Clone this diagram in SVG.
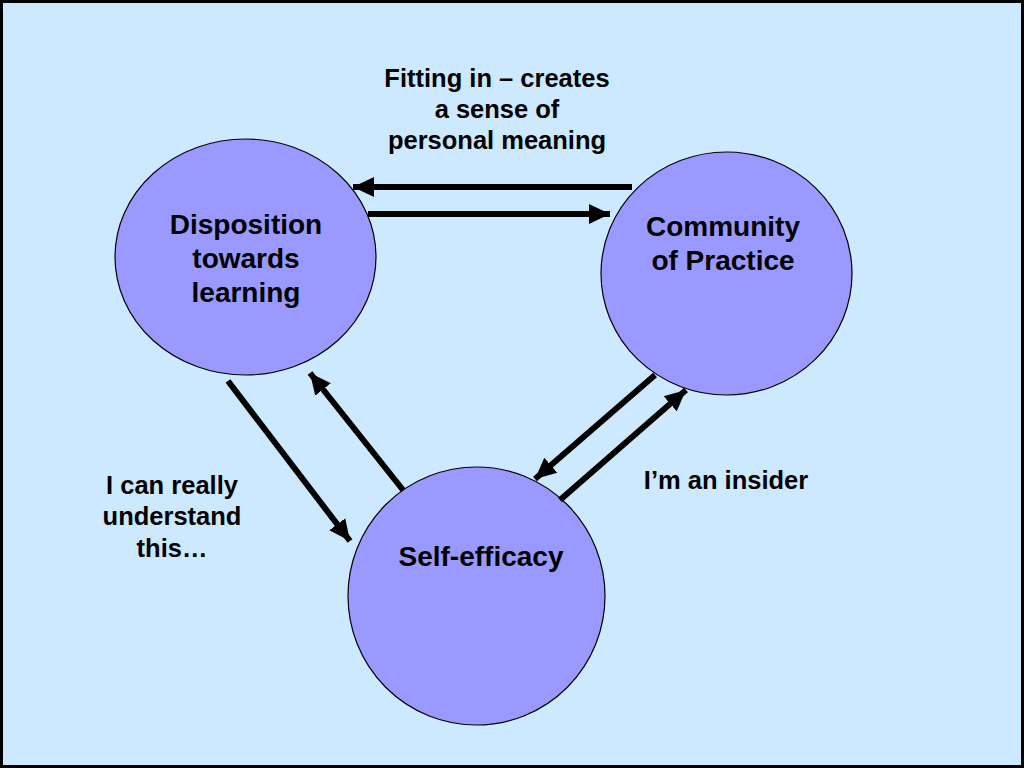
<svg xmlns="http://www.w3.org/2000/svg" width="1024" height="768" viewBox="0 0 1024 768">
<defs>
<marker id="ah" markerUnits="userSpaceOnUse" markerWidth="24" markerHeight="22" refX="21" refY="11" orient="auto">
<path d="M0,1 L21,11 L0,21 Z" fill="#000"/>
</marker>
<style>
.node{fill:#9999FF;stroke:#000;stroke-width:1.2}
.lbl{font-family:"Liberation Sans",Arial,sans-serif;font-weight:bold;fill:#000;text-anchor:middle}
.nt{font-size:28px}
.et{font-size:25.5px}
.conn line{stroke:#000;stroke-width:6;marker-end:url(#ah)}
</style>
</defs>
<rect x="1.5" y="1.5" width="1021" height="765" fill="#CCE9FF" stroke="#000" stroke-width="3"/>
<g id="node-disposition">
<ellipse class="node" cx="245.5" cy="257" rx="130.5" ry="118"/>
<text class="lbl nt" x="246" y="234">Disposition</text>
<text class="lbl nt" x="246" y="268">towards</text>
<text class="lbl nt" x="246" y="302">learning</text>
</g>
<g id="node-community">
<ellipse class="node" cx="726.5" cy="273.5" rx="125.5" ry="121.5"/>
<text class="lbl nt" x="723" y="236">Community</text>
<text class="lbl nt" x="723" y="270">of Practice</text>
</g>
<g id="node-selfefficacy">
<ellipse class="node" cx="476.5" cy="596" rx="128.5" ry="129"/>
<text class="lbl nt" x="481" y="566">Self-efficacy</text>
</g>
<g id="connectors" class="conn">
<line x1="632" y1="187" x2="353" y2="187"/>
<line x1="368" y1="214" x2="610" y2="214"/>
<line x1="228" y1="381" x2="350" y2="541"/>
<line x1="403" y1="490" x2="310" y2="373"/>
<line x1="655" y1="375" x2="535" y2="479"/>
<line x1="560" y1="500" x2="686" y2="390"/>
</g>
<g id="labels">
<text class="lbl et" x="497" y="87">Fitting in – creates</text>
<text class="lbl et" x="497" y="118">a sense of</text>
<text class="lbl et" x="497" y="149">personal meaning</text>
<text class="lbl et" x="172" y="494">I can really</text>
<text class="lbl et" x="172" y="525">understand</text>
<text class="lbl et" x="172" y="557">this…</text>
<text class="lbl et" x="726" y="489">I’m an insider</text>
</g>
</svg>
